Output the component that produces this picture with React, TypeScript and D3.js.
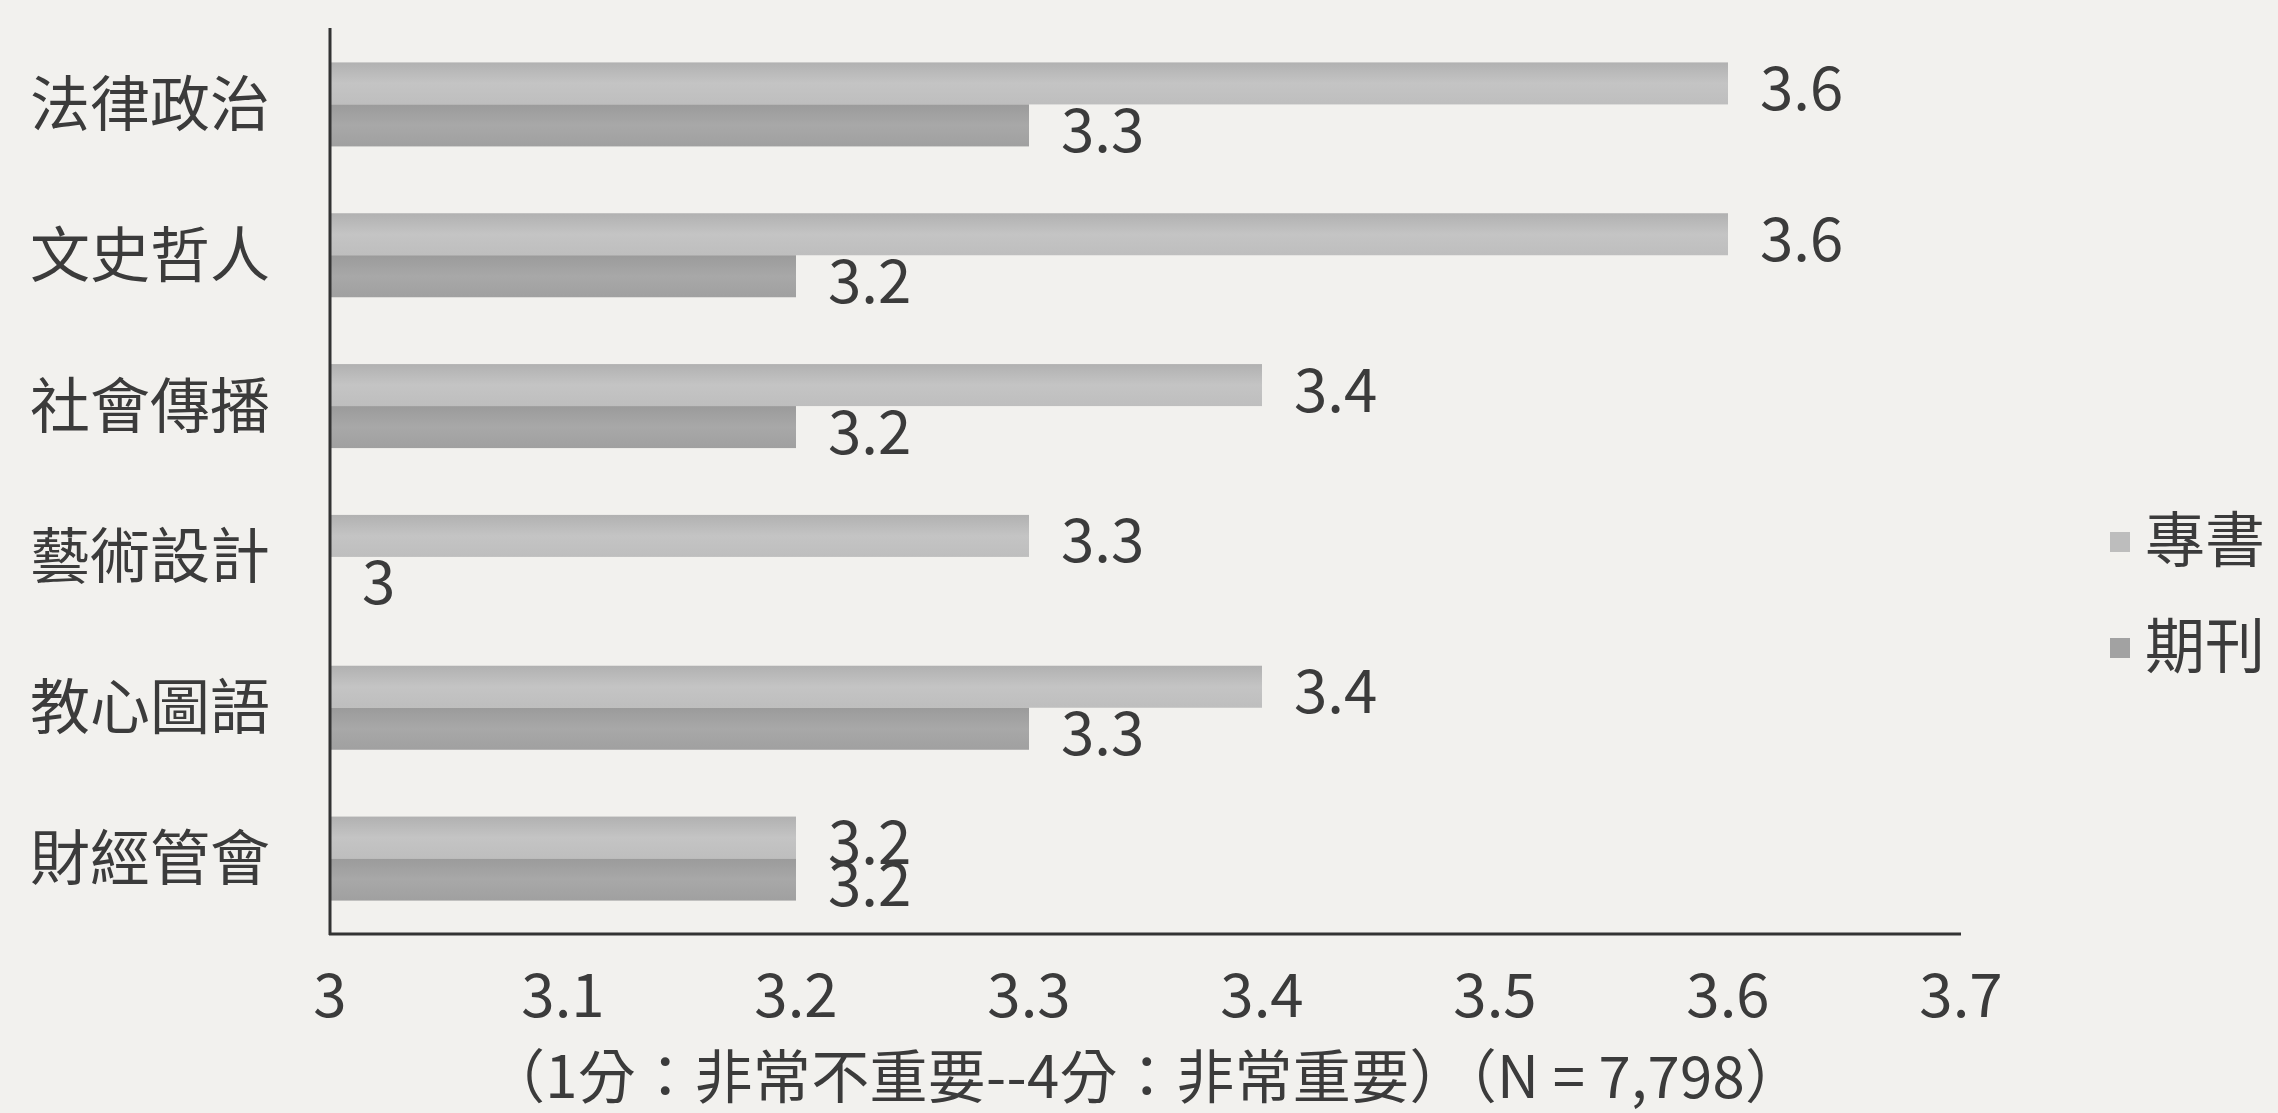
import React from "react";
import * as d3 from "d3";

const categories = ["法律政治", "文史哲人", "社會傳播", "藝術設計", "教心圖語", "財經管會"];
const seriesNames = ["專書", "期刊"];
const bookValues = [3.6, 3.6, 3.4, 3.3, 3.4, 3.2];
const journalValues = [3.3, 3.2, 3.2, 3.0, 3.3, 3.2];
const xTicks = [3, 3.1, 3.2, 3.3, 3.4, 3.5, 3.6, 3.7];
const axisTitle = "（1分：非常不重要--4分：非常重要）（N = 7,798）";

const W = 2278;
const H = 1113;
const FONT = '"Noto Sans CJK TC", "Noto Sans CJK SC", sans-serif';
const TEXT = "#3b3b3b";

export default function App() {
  const x = d3.scaleLinear().domain([3, 3.7]).range([330, 1961]);
  const y = d3
    .scaleBand<string>()
    .domain(categories)
    .range([29, 934])
    .paddingInner(0.443)
    .paddingOuter(0.2215);
  const sub = d3.scaleBand<string>().domain(seriesNames).range([0, y.bandwidth()]);
  const series = [
    { name: seriesNames[0], values: bookValues, fill: "url(#gBook)", legend: "#bdbdbd" },
    { name: seriesNames[1], values: journalValues, fill: "url(#gJournal)", legend: "#a2a2a2" },
  ];
  const legendY = [542, 648];

  return (
    <svg
      width={W}
      height={H}
      style={{ position: "absolute", left: 0, top: 0, display: "block" }}
      fontFamily={FONT}
    >
      <defs>
        <linearGradient id="gBook" x1="0" y1="0" x2="0" y2="1">
          <stop offset="0" stopColor="#b1b1b1" />
          <stop offset="0.5" stopColor="#c4c4c4" />
          <stop offset="1" stopColor="#bebebe" />
        </linearGradient>
        <linearGradient id="gJournal" x1="0" y1="0" x2="0" y2="1">
          <stop offset="0" stopColor="#9b9b9b" />
          <stop offset="0.5" stopColor="#a8a8a8" />
          <stop offset="1" stopColor="#a0a0a0" />
        </linearGradient>
      </defs>
      <rect x={0} y={0} width={W} height={H} fill="#f2f1ee" />

      {categories.map((c, i) => (
        <g key={c}>
          {series.map((s) => {
            const v = s.values[i];
            const by = (y(c) as number) + (sub(s.name) as number);
            const bh = sub.bandwidth();
            return (
              <g key={s.name}>
                <rect x={x(3)} y={by} width={x(v) - x(3)} height={bh} fill={s.fill} />
                <text
                  x={x(v) + 32}
                  y={by + bh / 2}
                  dominantBaseline="central"
                  fontSize={60}
                  fill={TEXT}
                >
                  {String(v)}
                </text>
              </g>
            );
          })}
          <text
            x={270}
            y={(y(c) as number) + y.bandwidth() / 2 - 5}
            textAnchor="end"
            dominantBaseline="central"
            fontSize={60}
            fill={TEXT}
          >
            {c}
          </text>
        </g>
      ))}

      <line x1={330} x2={330} y1={28} y2={935} stroke="#333" strokeWidth={3} />
      <line x1={329} x2={x(3.7)} y1={934} y2={934} stroke="#333" strokeWidth={3} />

      {xTicks.map((t) => (
        <text key={t} x={x(t)} y={1017} textAnchor="middle" fontSize={60} fill={TEXT}>
          {String(t)}
        </text>
      ))}

      <text
        x={487}
        y={1098}
        fontSize={58}
        fill={TEXT}
        textLength={1316}
        lengthAdjust="spacing"
      >
        {axisTitle}
      </text>

      {series.map((s, i) => (
        <g key={s.name}>
          <rect x={2110} y={legendY[i] - 10} width={20} height={20} fill={s.legend} />
          <text x={2145} y={legendY[i] - 7} dominantBaseline="central" fontSize={60} fill={TEXT}>
            {s.name}
          </text>
        </g>
      ))}
    </svg>
  );
}
